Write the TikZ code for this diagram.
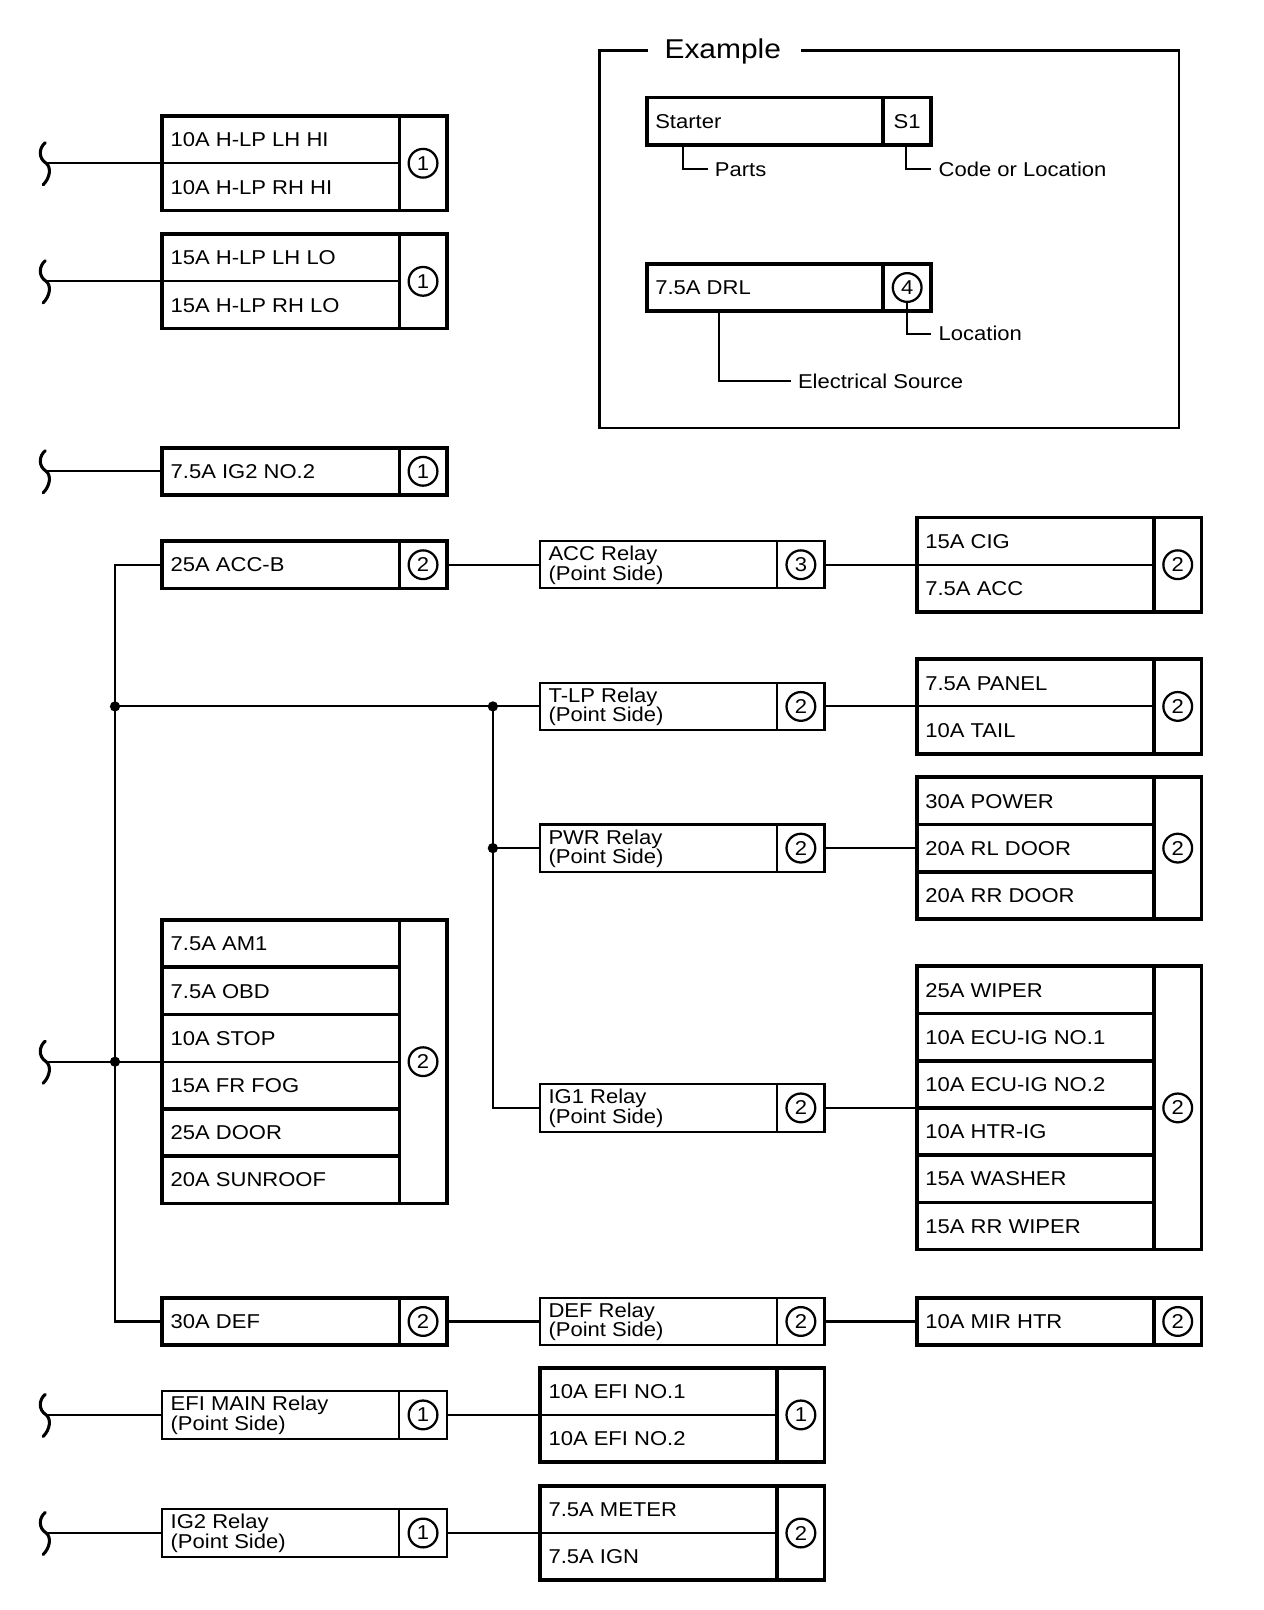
\documentclass[tikz,border=0pt]{standalone}
\usepackage{fontspec}
\setmainfont{Liberation Sans}[FakeStretch=1.1]
\tikzset{
  fusebox/.style={draw, line width=3.6pt, rectangle, inner sep=0pt, outer sep=0pt, minimum width=277pt},
  relaybox/.style={draw, line width=2pt, rectangle, inner sep=0pt, outer sep=0pt, minimum width=277pt, minimum height=46pt},
  thickline/.style={line width=3.6pt},
  wire/.style={line width=2pt},
  framel/.style={line width=2.4pt},
  brkline/.style={line width=3pt, line cap=round},
  lbl/.style={anchor=base west, inner sep=0pt, font=\fontsize{19.5}{20}\selectfont},
  num/.style={circle, draw, line width=2.2pt, minimum size=28pt, inner sep=0pt, font=\fontsize{19.5}{19.5}\selectfont},
  jdot/.style={circle, fill, inner sep=0pt, minimum size=10pt},
}
\newcommand\fusebx[6]{%
  \node[fusebox, minimum height={#4*46pt}, anchor=north west] (#1) at (#2,#3) {};
  \draw[thickline] ({#2+231},#3) -- ({#2+231},{#3+46*#4});
  \ifnum#4>1
    \pgfmathtruncatemacro\nlast{#4-1}%
    \foreach \k in {1,...,\nlast}{%
      \ifnum\k=#5\relax
        \draw[wire] ({#2},{#3+46*\k}) -- ({#2+231},{#3+46*\k});
      \else
        \draw[thickline] ({#2},{#3+46*\k}) -- ({#2+231},{#3+46*\k});
      \fi}%
  \fi
  \node[num] (#1n) at ({#2+254},{#3+23*#4}) {#6};
}
\newcommand\relaybx[6]{%
  \node[relaybox, anchor=north west] (#1) at (#2,#3) {};
  \draw[wire] ({#2+231},#3) -- ({#2+231},{#3+46});
  \node[lbl] (#1a) at ({#2+8},{#3+19}) {#4};
  \node[lbl] (#1b) at ({#2+8},{#3+38}) {#5};
  \node[num] (#1n) at ({#2+254},{#3+23}) {#6};
}
\newcommand\rowlbl[5]{\node[lbl] (#1) at ({#2+8},{#3+30+46*(#4-1)}) {#5};}
\newcommand\brk[2]{\draw[brkline, shift={(#1,#2)}] (-1,-20) .. controls (-7,-15) and (-8,-5) .. (0,0) .. controls (5,4) and (4,14) .. (-3,21);}
\begin{document}
\begin{tikzpicture}[x=1pt, y=-1pt]
\fill[white] (0,0) rectangle (1231,1568);
\useasboundingbox (0,0) rectangle (1231,1568);

% ---------- Example ----------
\node[anchor=base west, inner sep=0pt, font=\fontsize{26.5}{27}\selectfont] (extitle) at (647,57) {Example};
\coordinate (fa) at (631,49);
\coordinate (fb) at (780,49);
\draw[framel] (fa) -- (584,49) -- (584,417) -- (1148,417) -- (1148,49) -- (fb);

\node[fusebox, minimum height=46pt, anchor=north west] (starter) at (630,95) {};
\draw[thickline] (860,95) -- (860,141);
\node[lbl] (startert) at (638,125) {Starter};
\node[lbl, anchor=base] (sone) at (883.5,125) {S1};
\coordinate (pe) at (690,165);
\draw[wire] ([xshift=35pt]starter.south west) |- (pe);
\node[lbl] (parts) at (696,172) {Parts};
\coordinate (ce) at (907,165);
\draw[wire] ([xshift=252pt]starter.south west) |- (ce);
\node[lbl] (codeloc) at (914,172) {Code or Location};

\node[fusebox, minimum height=46pt, anchor=north west] (drl) at (630,257) {};
\draw[thickline] (860,257) -- (860,303);
\node[lbl] (drlt) at (638,287) {7.5A DRL};
\node[num] (drln) at (883.5,280) {4};
\coordinate (le) at (907,325);
\draw[wire] (drln.south) |- (le);
\node[lbl] (loc) at (914,332) {Location};
\coordinate (ee) at (770,371);
\draw[wire] ([xshift=70pt]drl.south west) |- (ee);
\node[lbl] (esrc) at (777,378) {Electrical Source};

% ---------- left column ----------
\fusebx{hi}{158}{113}{2}{1}{1}
\rowlbl{hia}{158}{113}{1}{10A H-LP LH HI}
\rowlbl{hib}{158}{113}{2}{10A H-LP RH HI}
\fusebx{lo}{158}{228}{2}{1}{1}
\rowlbl{loa}{158}{228}{1}{15A H-LP LH LO}
\rowlbl{lob}{158}{228}{2}{15A H-LP RH LO}
\fusebx{ignt}{158}{436}{1}{0}{1}
\rowlbl{ignta}{158}{436}{1}{7.5A IG2 NO.2}
\fusebx{accb}{158}{527}{1}{0}{2}
\rowlbl{accba}{158}{527}{1}{25A ACC-B}
\fusebx{amone}{158}{896}{6}{3}{2}
\rowlbl{amonea}{158}{896}{1}{7.5A AM1}
\rowlbl{amoneb}{158}{896}{2}{7.5A OBD}
\rowlbl{amonec}{158}{896}{3}{10A STOP}
\rowlbl{amoned}{158}{896}{4}{15A FR FOG}
\rowlbl{amonee}{158}{896}{5}{25A DOOR}
\rowlbl{amonef}{158}{896}{6}{20A SUNROOF}
\fusebx{def}{158}{1264}{1}{0}{2}
\rowlbl{defa}{158}{1264}{1}{30A DEF}
\relaybx{efim}{158}{1355}{EFI MAIN Relay}{(Point Side)}{1}
\relaybx{igtr}{158}{1470}{IG2 Relay}{(Point Side)}{1}

% ---------- middle column ----------
\relaybx{accr}{526}{527}{ACC Relay}{(Point Side)}{3}
\relaybx{tlpr}{526}{665}{T-LP Relay}{(Point Side)}{2}
\relaybx{pwrr}{526}{803}{PWR Relay}{(Point Side)}{2}
\relaybx{igor}{526}{1056}{IG1 Relay}{(Point Side)}{2}
\relaybx{defr}{526}{1264}{DEF Relay}{(Point Side)}{2}
\fusebx{efi}{526}{1332}{2}{1}{1}
\rowlbl{efia}{526}{1332}{1}{10A EFI NO.1}
\rowlbl{efib}{526}{1332}{2}{10A EFI NO.2}
\fusebx{meter}{526}{1447}{2}{1}{2}
\rowlbl{metera}{526}{1447}{1}{7.5A METER}
\rowlbl{meterb}{526}{1447}{2}{7.5A IGN}

% ---------- right column ----------
\fusebx{cig}{893}{504}{2}{1}{2}
\rowlbl{ciga}{893}{504}{1}{15A CIG}
\rowlbl{cigb}{893}{504}{2}{7.5A ACC}
\fusebx{panel}{893}{642}{2}{1}{2}
\rowlbl{panela}{893}{642}{1}{7.5A PANEL}
\rowlbl{panelb}{893}{642}{2}{10A TAIL}
\fusebx{power}{893}{757}{3}{0}{2}
\rowlbl{powera}{893}{757}{1}{30A POWER}
\rowlbl{powerb}{893}{757}{2}{20A RL DOOR}
\rowlbl{powerc}{893}{757}{3}{20A RR DOOR}
\fusebx{wiper}{893}{941}{6}{0}{2}
\rowlbl{wipera}{893}{941}{1}{25A WIPER}
\rowlbl{wiperb}{893}{941}{2}{10A ECU-IG NO.1}
\rowlbl{wiperc}{893}{941}{3}{10A ECU-IG NO.2}
\rowlbl{wiperd}{893}{941}{4}{10A HTR-IG}
\rowlbl{wipere}{893}{941}{5}{15A WASHER}
\rowlbl{wiperf}{893}{941}{6}{15A RR WIPER}
\fusebx{mir}{893}{1264}{1}{0}{2}
\rowlbl{mira}{893}{1264}{1}{10A MIR HTR}

% ---------- break symbols ----------
\coordinate (bra) at (45,159);
\coordinate (brb) at (45,274);
\coordinate (brc) at (45,459);
\coordinate (brd) at (45,1034);
\coordinate (bre) at (45,1378);
\coordinate (brf) at (45,1493);
\brk{45}{159}
\brk{45}{274}
\brk{45}{459}
\brk{45}{1034}
\brk{45}{1378}
\brk{45}{1493}

% ---------- junctions ----------
\node[jdot] (ja) at (112,688) {};
\node[jdot] (jb) at (112,1034) {};
\node[jdot] (jc) at (480,688) {};
\node[jdot] (jd) at (480,826) {};
\coordinate (ka) at (112,550);
\coordinate (kb) at (112,1287);
\coordinate (kc) at (480,1079);

% ---------- wires ----------
\draw[wire] (bra) -- (hi.west);
\draw[wire] (brb) -- (lo.west);
\draw[wire] (brc) -- (ignt.west);
\draw[wire] (brd) -- (amone.west);
\draw[wire] (bre) -- (efim.west);
\draw[wire] (brf) -- (igtr.west);
\draw[wire] (accb.west) -- (ka) -- (kb) -- (def.west);
\draw[wire] (ja.center) -- (tlpr.west);
\draw[wire] (jc.center) -- (kc) -- (igor.west);
\draw[wire] (jd.center) -- (pwrr.west);
\draw[wire] (accb.east) -- (accr.west);
\draw[wire] (accr.east) -- (cig.west);
\draw[wire] (tlpr.east) -- (panel.west);
\draw[wire] (pwrr.east) -- (power.west);
\draw[wire] (igor.east) -- (wiper.west);
\draw[wire] (def.east) -- (defr.west);
\draw[wire] (defr.east) -- (mir.west);
\draw[wire] (efim.east) -- (efi.west);
\draw[wire] (igtr.east) -- (meter.west);
\end{tikzpicture}
\end{document}
